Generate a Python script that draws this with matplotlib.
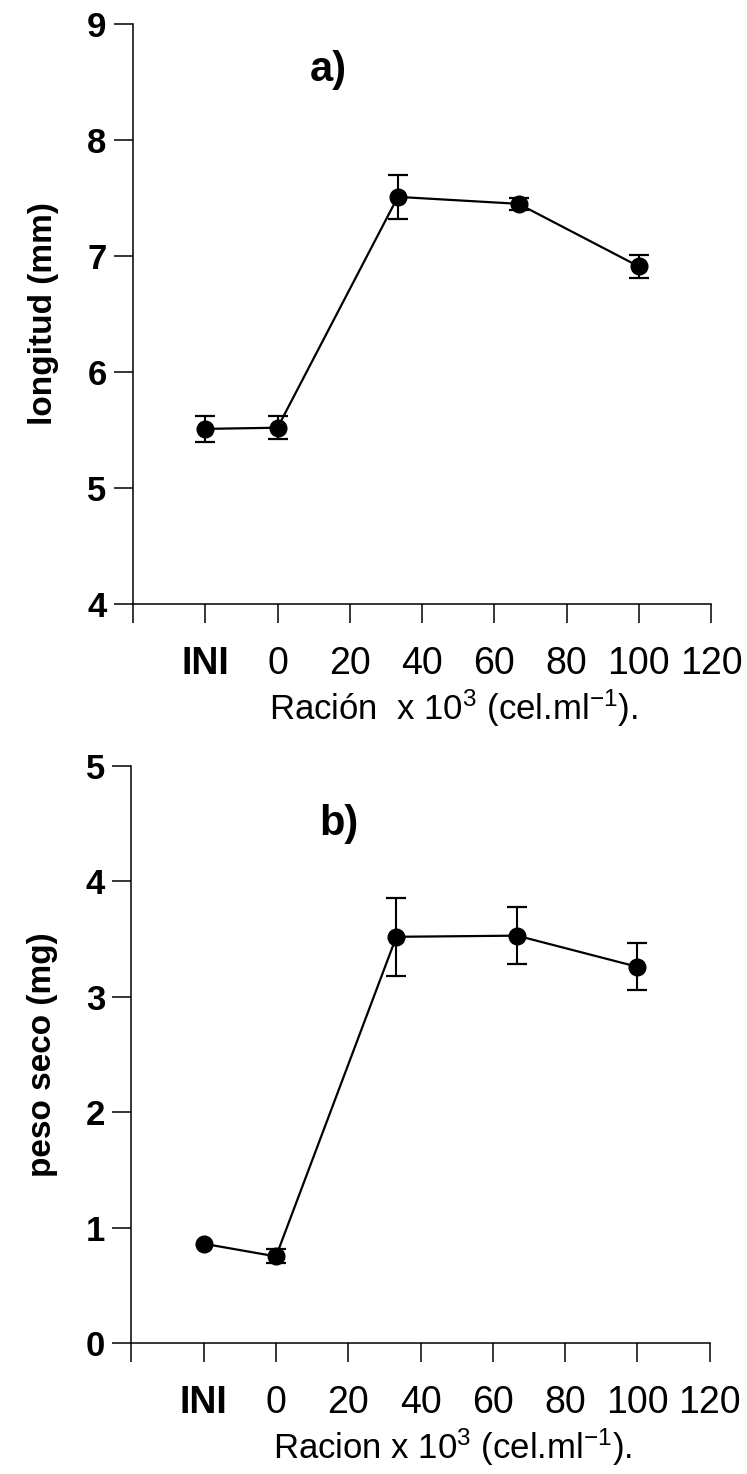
import matplotlib
matplotlib.use("Agg")
import matplotlib.pyplot as plt

plt.rcParams['font.family'] = ['Liberation Sans', 'DejaVu Sans']
plt.rcParams['mathtext.fontset'] = 'custom'
plt.rcParams['mathtext.rm'] = 'Liberation Sans'
plt.rcParams['mathtext.it'] = 'Liberation Sans'

# datos
racion = [-20, 0, 33.3, 66.7, 100]   # INI se pone en -20
longitud = [5.51, 5.52, 7.51, 7.45, 6.91]
longitud_err = [0.11, 0.10, 0.19, 0.05, 0.10]
peso = [0.86, 0.75, 3.52, 3.53, 3.26]
peso_err = [0.0, 0.06, 0.34, 0.245, 0.205]

xticks = [-40, -20, 0, 20, 40, 60, 80, 100, 120]
xtick_labels = ['', 'INI', '0', '20', '40', '60', '80', '100', '120']

fig = plt.figure(figsize=(7.47, 14.74), dpi=100)
ax1 = fig.add_axes([0.178, 0.5902, 0.774, 0.3935])
ax2 = fig.add_axes([0.176, 0.0889, 0.774, 0.3914])


def dibujar(ax, y, yerr, ylim, ylabel, xlabel, letra, pos_letra):
	xs = [x for x, e in zip(racion, yerr) if e > 0]
	ys = [v for v, e in zip(y, yerr) if e > 0]
	es = [e for e in yerr if e > 0]
	ax.errorbar(xs, ys, yerr=es, fmt='none', ecolor='black', elinewidth=1.5,
				capsize=7.5, capthick=1.6)
	ax.plot(racion, y, '-o', color='black', lw=1.6, markersize=12)

	ax.set_xlim(-40, 120)
	ax.set_ylim(ylim[0], ylim[1])
	ax.set_xticks(xticks)
	ax.set_xticklabels(xtick_labels, fontsize=27)
	ax.get_xticklabels()[1].set_fontweight('bold')
	ax.set_yticks(range(ylim[0], ylim[1] + 1))
	ax.set_yticklabels([str(v) for v in range(ylim[0], ylim[1] + 1)],
					   fontsize=25, fontweight='bold')
	ax.tick_params(direction='out', length=14, width=1.1)
	ax.tick_params(axis='x', pad=16)
	ax.tick_params(axis='y', pad=5)
	ax.spines['top'].set_visible(False)
	ax.spines['right'].set_visible(False)
	ax.spines['left'].set_linewidth(1.1)
	ax.spines['bottom'].set_linewidth(1.1)
	ax.set_ylabel(ylabel, fontsize=24, fontweight='bold', labelpad=20)
	ax.set_xlabel(xlabel, fontsize=25, labelpad=4, x=0.555)
	ax.text(pos_letra[0], pos_letra[1], letra, fontsize=30, fontweight='bold',
			ha='center', va='center')


dibujar(ax1, longitud, longitud_err, (4, 9), 'longitud (mm)',
		r'Ración  x 10$^3$ (cel.ml$^{-1}$).', 'a)', (14, 8.6))
dibujar(ax2, peso, peso_err, (0, 5), 'peso seco (mg)',
		r'Racion x 10$^3$ (cel.ml$^{-1}$).', 'b)', (17.5, 4.5))

fig.savefig('out.png', dpi=100)
